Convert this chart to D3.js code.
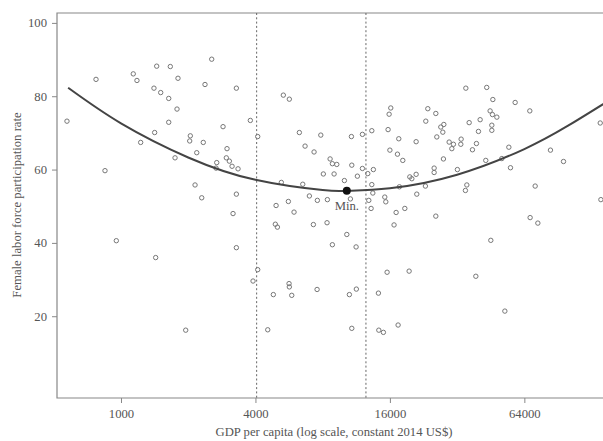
<!DOCTYPE html>
<html>
<head>
<meta charset="utf-8">
<script src="https://cdn.jsdelivr.net/npm/d3@7"></script>
<style>
  body { margin: 0; background: #fff; }
  text { font-family: 'Liberation Serif', 'DejaVu Serif', serif; fill: #555; }
</style>
</head>
<body>
<div id="chart"></div>
<script>
// country points: GDP per capita (2014 US$) and female labor force participation rate
const gdp = [
  773, 1135, 1179, 1445, 1663, 1800, 2548, 2378, 3286, 1405, 1506, 1636, 1782, 1636, 573,
  1415, 1225, 2044, 2031, 2336, 2184, 2864, 3795, 4095, 2984, 2963, 3057, 2684, 3143, 3343,
  2665, 1746, 848, 2146, 2299, 3286, 3175,
  953, 1430, 3286, 4095, 3902, 1949,
  5333, 5673, 6291, 7847, 6672, 7321, 8637, 8842, 9253, 8056, 9000, 10760, 12054, 13278,
  10802, 12054, 13494, 12738, 11443, 10009, 5224, 6516, 13278, 6975, 7574, 8399, 10648, 5617,
  4949, 5955, 12871, 15179, 15339, 13418, 13182, 4911, 5017, 7270, 8369, 10261, 17062, 18661,
  16700, 16145, 15873, 23168, 23654, 25690, 15705, 17536, 20970, 25954, 16000, 17296, 18275,
  19647, 20060, 20970, 25248, 25248, 17650, 21112, 23075, 25690, 8842, 11291, 5657, 5673,
  4811, 5816, 7553, 10537, 11322, 14214, 15545, 19509, 4541, 10802, 14273, 14963, 17413,
  35012, 43421, 46250, 58210, 67705, 44966, 46058, 48201, 40569, 36230, 27900, 27045, 45765,
  45765, 39875, 27612, 29472, 30805, 30300, 33351, 33240, 39054, 37480, 27790, 43001, 50743,
  54549, 83770, 95835, 139938, 55470, 32090, 35370, 34860, 71550, 67930, 73560, 140900,
  45290, 38810, 52350
];
const rate = [
  84.6, 86.1, 84.3, 88.2, 88.1, 84.9, 90.1, 83.2, 82.2, 82.2, 81.0, 79.4, 76.5, 72.9, 73.2,
  70.1, 67.4, 69.2, 67.8, 67.4, 64.6, 71.7, 73.4, 69.0, 65.7, 63.2, 62.3, 61.9, 60.9, 60.2,
  60.4, 63.2, 59.7, 55.8, 52.3, 53.3, 48.0,
  40.6, 36.0, 38.7, 32.7, 29.6, 16.2,
  80.3, 79.2, 70.1, 69.4, 66.4, 64.8, 62.9, 61.6, 61.4, 58.8, 58.8, 69.0, 69.6, 70.6,
  61.2, 60.3, 60.0, 58.9, 58.2, 57.0, 56.5, 56.0, 55.9, 52.8, 51.6, 51.8, 52.0, 51.3,
  50.2, 48.4, 51.6, 52.5, 51.2, 53.6, 49.4, 45.1, 44.3, 45.0, 45.5, 42.3, 48.3, 49.4,
  44.9, 76.8, 75.1, 73.2, 76.6, 75.3, 70.9, 68.4, 67.6, 68.9, 65.3, 64.2, 62.5,
  58.0, 57.5, 58.7, 60.4, 59.2, 55.3, 53.3, 55.5, 47.3, 39.5, 38.9, 28.9, 28.0,
  25.9, 25.7, 27.3, 25.9, 27.4, 26.3, 32.0, 32.3, 16.3, 16.7, 16.2, 15.6, 17.6,
  82.2, 82.4, 79.1, 78.3, 76.0, 76.0, 75.0, 74.3, 73.6, 72.8, 72.3, 71.6, 72.1,
  70.7, 70.4, 70.2, 67.5, 66.9, 65.7, 68.3, 66.9, 67.1, 65.4, 62.9, 62.5, 63.0,
  66.1, 65.3, 62.2, 72.7, 60.5, 60.0, 55.8, 54.3, 55.5, 46.9, 45.4, 51.8,
  40.7, 30.9, 21.4
];

// fitted U-curve
const curveGdp = [580, 1000, 2000, 4000, 8000, 10260, 16000, 32000, 64000, 100000, 150000];
const curveRate = [82.3, 72.6, 63.3, 57.2, 54.4, 54.2, 54.9, 58.6, 65.6, 71.9, 78.5];

const minGdp = 10260;
const minRate = 54.2;

// income group thresholds
const thresholds = [4050, 12500];

const xTicks = [1000, 4000, 16000, 64000];
const yTicks = [20, 40, 60, 80, 100];

const width = 603;
const height = 441;
const plotLeft = 57;
const plotTop = 13;
const plotBottom = 398;

const svg = d3.select('#chart')
    .append('svg')
    .attr('width', width)
    .attr('height', height);

const x = d3.scaleLog()
    .domain([517, 144000])
    .range([plotLeft, width]);

const y = d3.scaleLinear()
    .domain([-2.3, 102.7])
    .range([plotBottom, plotTop]);

// frame (right side runs off the picture)
svg.append('path')
    .attr('d', 'M' + (width + 5) + ',' + plotTop + 'H' + plotLeft + 'V' + plotBottom + 'H' + (width + 5))
    .attr('fill', 'none')
    .attr('stroke', '#888')
    .attr('stroke-width', 1.2);

const xAxis = svg.append('g')
    .attr('transform', 'translate(0,' + plotBottom + ')')
    .call(d3.axisBottom(x).tickValues(xTicks).tickFormat(d3.format('d')).tickSize(5).tickPadding(5.5));

const yAxis = svg.append('g')
    .attr('transform', 'translate(' + plotLeft + ',0)')
    .call(d3.axisLeft(y).tickValues(yTicks).tickSize(5).tickPadding(5));

[xAxis, yAxis].forEach(ax => {
  ax.select('.domain').remove();
  ax.selectAll('line').attr('stroke', '#888');
  ax.selectAll('text').attr('fill', '#555').style('font-size', '12.7px')
      .style('font-family', "'Liberation Serif', serif");
});

svg.append('text')
    .attr('x', 334)
    .attr('y', 436)
    .attr('text-anchor', 'middle')
    .style('font-size', '12.7px')
    .text('GDP per capita (log scale, constant 2014 US$)');

svg.append('text')
    .attr('transform', 'translate(20.5,' + 205 + ') rotate(-90)')
    .attr('text-anchor', 'middle')
    .style('font-size', '12.7px')
    .text('Female labor force participation rate');

svg.selectAll('.threshold')
    .data(thresholds)
    .enter()
    .append('line')
    .attr('class', 'threshold')
    .attr('x1', d => x(d))
    .attr('x2', d => x(d))
    .attr('y1', plotTop)
    .attr('y2', plotBottom)
    .attr('stroke', '#666')
    .attr('stroke-width', 1)
    .attr('stroke-dasharray', '2,2.3');

svg.append('g')
    .selectAll('circle')
    .data(d3.range(gdp.length))
    .enter()
    .append('circle')
    .attr('cx', i => x(gdp[i]))
    .attr('cy', i => y(rate[i]))
    .attr('r', 2.2)
    .attr('fill', 'none')
    .attr('stroke', '#777')
    .attr('stroke-width', 1);

const line = d3.line()
    .x(i => x(curveGdp[i]))
    .y(i => y(curveRate[i]))
    .curve(d3.curveNatural);

svg.append('path')
    .attr('d', line(d3.range(curveGdp.length)))
    .attr('fill', 'none')
    .attr('stroke', '#444')
    .attr('stroke-width', 2);

svg.append('circle')
    .attr('cx', x(minGdp))
    .attr('cy', y(minRate))
    .attr('r', 4)
    .attr('fill', '#111');

svg.append('text')
    .attr('x', x(minGdp))
    .attr('y', y(minRate) + 19)
    .attr('text-anchor', 'middle')
    .style('font-size', '12.7px')
    .text('Min.');
</script>
</body>
</html>
